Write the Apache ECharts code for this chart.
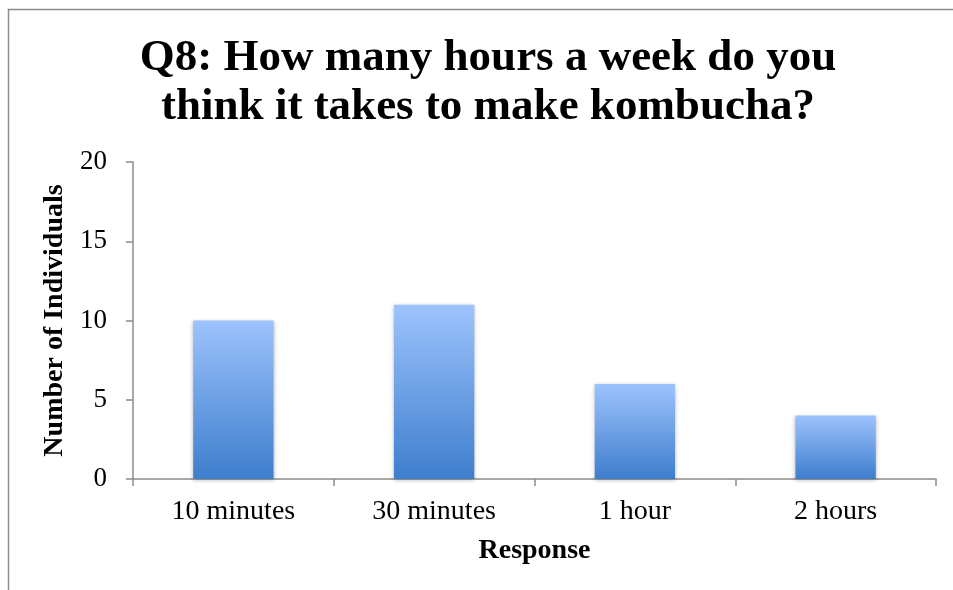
<!DOCTYPE html>
<html>
<head>
<meta charset="utf-8">
<script src="https://cdn.jsdelivr.net/npm/echarts@6/dist/echarts.min.js"></script>
<style>html,body{margin:0;padding:0;background:#fff}#c{width:953px;height:590px}</style>
</head>
<body>
<div id="c"></div>
<script>
var categories = ['10 minutes', '30 minutes', '1 hour', '2 hours'];
var counts = [10, 11, 6, 4];
var titleText = 'Q8: How many hours a week do you\nthink it takes to make kombucha?';
var yName = 'Number of Individuals';
var xName = 'Response';

var chart = echarts.init(document.getElementById('c'));
chart.setOption({
  backgroundColor: '#fff',
  animation: false,
  graphic: [{
    type: 'rect', silent: true, z: -1,
    shape: { x: 8.5, y: 9.5, width: 1200, height: 1200 },
    style: { fill: 'none', stroke: '#8c8c8c', lineWidth: 1.5 }
  }],
  title: {
    text: titleText,
    left: 483, top: 29, textAlign: 'center',
    textStyle: { fontFamily: 'Liberation Serif', fontWeight: 'bold', fontSize: 45, lineHeight: 49, color: '#000' }
  },
  grid: { left: 133, right: 17, top: 162, bottom: 111, containLabel: false },
  xAxis: {
    type: 'category', data: categories,
    name: xName, nameLocation: 'middle', nameGap: 58,
    nameTextStyle: { fontFamily: 'Liberation Serif', fontWeight: 'bold', fontSize: 28, color: '#000' },
    axisLine: { lineStyle: { color: '#8c8c8c', width: 1.5 } },
    axisTick: { show: true, length: 7, lineStyle: { color: '#8c8c8c', width: 1.5 } },
    axisLabel: { fontFamily: 'Liberation Serif', fontSize: 28, color: '#000', margin: 19 },
    splitLine: { show: false }
  },
  yAxis: {
    type: 'value', min: 0, max: 20, interval: 5,
    name: yName, nameLocation: 'middle', nameGap: 61,
    nameTextStyle: { fontFamily: 'Liberation Serif', fontWeight: 'bold', fontSize: 28, color: '#000' },
    axisLine: { show: true, lineStyle: { color: '#8c8c8c', width: 1.5 } },
    axisTick: { show: true, length: 7, lineStyle: { color: '#8c8c8c', width: 1.5 } },
    axisLabel: { fontFamily: 'Liberation Serif', fontSize: 27, color: '#000', margin: 26 },
    splitLine: { show: false }
  },
  series: [{
    type: 'bar', data: counts, barWidth: '40%',
    itemStyle: {
      color: new echarts.graphic.LinearGradient(0, 0, 0, 1, [
        { offset: 0, color: '#9dc3fd' },
        { offset: 1, color: '#3e7ecd' }
      ]),
      shadowBlur: 4, shadowColor: 'rgba(0,0,0,0.3)', shadowOffsetY: 1
    }
  }]
});
</script>
</body>
</html>
